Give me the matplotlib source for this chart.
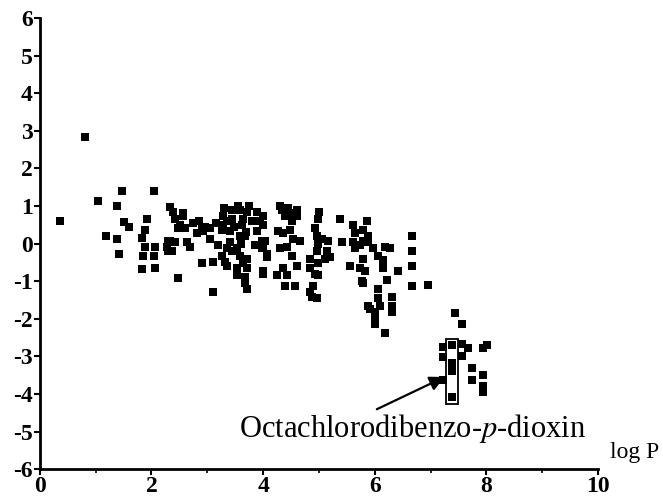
import matplotlib
matplotlib.use("Agg")
import matplotlib.pyplot as plt
from matplotlib.patches import Rectangle
from matplotlib.ticker import MultipleLocator

plt.rcParams["font.family"] = ["Liberation Serif", "DejaVu Serif"]
plt.rcParams["mathtext.fontset"] = "stix"
plt.rcParams["axes.unicode_minus"] = False

# log P values of the compounds
log_p = [
    0.36, 0.81, 1.04, 1.47, 2.04, 1.38, 1.51, 1.59, 1.92, 1.88, 1.18, 1.38, 1.42,
    1.83, 1.88, 2.06, 1.85, 2.04, 1.83, 2.06, 2.29, 2.29,
    2.33, 2.38, 2.56, 2.42, 2.51, 2.60, 2.56, 2.47, 2.33, 2.42, 2.37, 2.28, 2.63,
    2.69, 2.81, 2.90, 2.92, 2.96, 2.90, 3.10, 2.47, 3.10, 3.05,
    3.28, 3.28, 3.26, 3.35, 3.41, 3.44, 3.58, 3.64, 3.71, 3.62, 3.58, 3.67,
    3.89, 3.94, 4.00, 3.89, 3.98, 3.19, 3.26, 3.35, 3.44, 3.53, 3.58, 3.71, 3.64,
    3.32, 3.35, 3.53, 3.71, 3.67, 3.53, 3.67, 3.71, 4.00, 4.00, 4.07,
    4.00, 4.03, 3.98, 4.07, 4.00,
    4.34, 4.39, 4.52, 4.61, 4.27, 4.35, 4.48, 4.53, 4.66, 4.52, 4.30, 4.43, 4.52,
    4.25, 4.35, 4.43, 4.39, 4.57, 4.61,
    4.98, 4.93, 4.96, 5.05, 5.16, 4.98, 4.84, 4.98, 4.84, 4.93, 4.98,
    4.89, 4.84, 4.87, 4.96, 4.96, 5.14, 5.11, 5.20, 5.38, 5.41,
    5.61, 5.65, 5.61, 5.65, 5.73, 5.56, 5.73, 5.77, 5.86, 5.88, 5.86,
    5.79, 5.79, 5.88, 5.97, 6.06, 6.15, 6.18, 6.27, 5.79, 5.82, 5.79,
    6.15, 6.22, 6.42, 6.06, 6.06, 6.09, 5.88, 5.91, 6.00, 6.00, 6.00,
    6.31, 6.31, 6.31, 6.18, 6.67, 6.67, 6.67, 6.67, 6.95, 7.44, 7.56,
    7.38, 7.38, 7.38, 7.38, 7.22, 7.22, 7.22,
    7.56, 7.56, 7.67, 7.74, 7.74, 7.94, 8.01, 7.94, 7.94, 7.94,
    3.30, 3.45, 3.55, 3.75, 3.80, 3.48, 3.70, 3.40, 3.60, 3.85, 3.15, 3.05,
    2.75, 2.85, 4.30, 4.45, 4.60, 5.00,
]
# second quantity on the vertical axis
resp = [
    0.61, 2.82, 1.14, 1.41, 1.41, 1.01, 0.56, 0.45, 0.66, 0.35, 0.19, 0.11, -0.29,
    0.16, -0.08, -0.08, -0.32, -0.32, -0.69, -0.66, 0.08, -0.19,
    0.98, 0.85, 0.80, 0.66, 0.48, 0.40, 0.74, 0.40, 0.08, 0.05, -0.21, -0.08, 0.05,
    -0.08, 0.27, 0.45, 0.32, 0.45, -0.51, -0.48, -0.93, -1.28, 0.13,
    0.74, 0.48, 0.35, 0.59, 0.32, 0.66, 0.88, 0.66, 0.85, 0.48, 0.21, 0.21,
    0.85, 0.61, 0.74, 0.32, 0.08, -0.05, -0.32, -0.13, -0.19, -0.13, -0.32, -0.40, -0.53,
    -0.48, -0.59, -0.66, -0.66, -0.88, -0.85, -1.06, -1.20, -0.74, -0.13, -0.27,
    0.48, 0.08, -0.13, -0.35, -0.80,
    0.88, 0.74, 0.80, 0.72, 0.32, 0.27, 0.35, 0.13, 0.08, 0.59, -0.13, -0.08, -0.32,
    -0.85, -0.66, -0.85, -1.14, -1.12, -0.61,
    0.66, 0.40, 0.21, 0.13, 0.08, 0.00, -0.40, -0.53, -0.66, -0.80, -0.85,
    -1.12, -1.28, -1.41, -1.46, -0.19, -0.21, -0.40, -0.35, 0.66, 0.05,
    0.48, 0.27, 0.05, -0.13, -0.05, -0.59, -0.66, -1.01, 0.59, 0.21, 0.08,
    0.35, 0.08, 0.05, -0.13, -0.32, -0.45, -0.08, -0.13, -0.40, -0.72, -1.06,
    -0.66, -0.98, -0.72, -1.20, -1.46, -1.65, -1.65, -1.73, -1.81, -1.99, -2.13,
    -1.41, -1.65, -1.81, -2.39, 0.19, -0.19, -0.61, -1.14, -1.09, -1.86, -2.15,
    -2.71, -3.19, -3.40, -4.07, -2.74, -3.01, -3.64,
    -2.66, -2.98, -2.79, -3.32, -3.64, -2.79, -2.71, -3.51, -3.78, -3.94,
    0.95, 0.90, 1.00, 1.00, 0.60, 0.45, 0.30, 0.05, 0.00, -0.05, 0.55, 0.40,
    0.55, 0.60, 1.00, 0.95, 0.90, 0.85,
]

label_text = "Octachlorodibenzo-$p$-dioxin"

fig = plt.figure(figsize=(6.63, 4.98), dpi=100)
ax = fig.add_axes([0.060, 0.058, 0.842, 0.906])

ax.plot(log_p, resp, linestyle="none", marker="s", markersize=5.3,
        color="black", markeredgewidth=0)

# box around the octachlorodibenzo-p-dioxin points
ax.add_patch(Rectangle((7.27, -4.28), 0.22, 1.73, fill=False,
                       linewidth=1.3, edgecolor="black"))

ax.annotate(label_text, xy=(7.25, -3.55), xytext=(6.68, -4.92),
            fontsize=22, ha="center", va="center",
            arrowprops=dict(arrowstyle="-|>", color="black", lw=1.6,
                            mutation_scale=22, shrinkA=0, shrinkB=0,
                            relpos=(0.38, 1.0)))

ax.text(10.22, -5.55, "log P", fontsize=17, ha="left", va="center",
        clip_on=False)

ax.set_xlim(0, 10)
ax.set_ylim(-6, 6)
ax.xaxis.set_major_locator(MultipleLocator(2))
ax.xaxis.set_minor_locator(MultipleLocator(1))
ax.yaxis.set_major_locator(MultipleLocator(1))

for side in ("top", "right"):
    ax.spines[side].set_visible(False)
for side in ("left", "bottom"):
    ax.spines[side].set_linewidth(2)

ax.tick_params(axis="both", which="major", direction="out", length=4,
               width=1.5, labelsize=17, pad=1)
ax.tick_params(axis="x", which="minor", direction="out", length=3, width=1.2)
for lab in ax.get_xticklabels() + ax.get_yticklabels():
    lab.set_fontweight("bold")

fig.savefig("out.png", dpi=100)
